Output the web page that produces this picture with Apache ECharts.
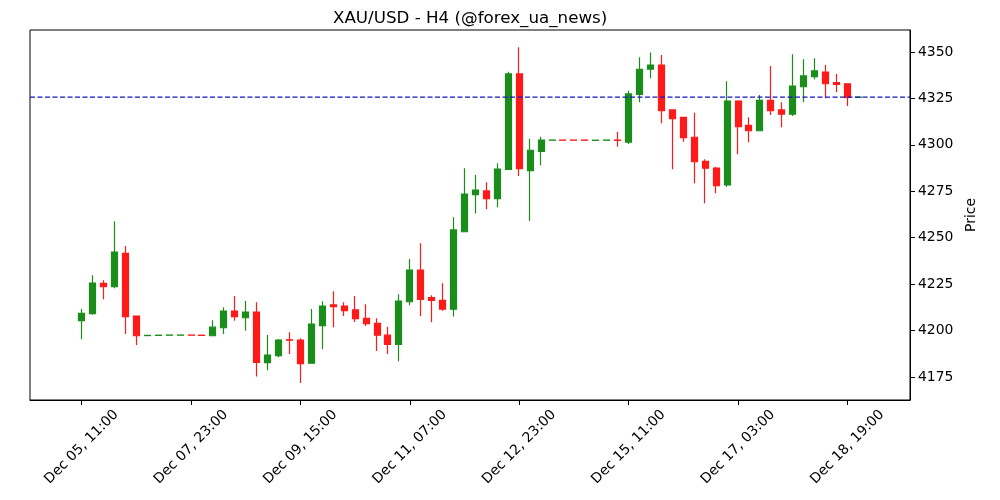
<!DOCTYPE html>
<html>
<head>
<meta charset="utf-8">
<script src="https://cdn.jsdelivr.net/npm/echarts@6/dist/echarts.min.js"></script>
<style>html,body{margin:0;padding:0;background:#fff;}#chart{width:1000px;height:500px;}</style>
</head>
<body>
<div id="chart"></div>
<script>
const categories = [
  'Dec 05, 11:00','Dec 05, 15:00','Dec 05, 19:00','Dec 05, 23:00','Dec 06, 03:00','Dec 06, 07:00',
  'Dec 06, 11:00','Dec 06, 15:00','Dec 06, 19:00','Dec 07, 19:00','Dec 07, 23:00','Dec 08, 03:00',
  'Dec 08, 07:00','Dec 08, 11:00','Dec 08, 15:00','Dec 08, 19:00','Dec 08, 23:00','Dec 09, 03:00',
  'Dec 09, 07:00','Dec 09, 11:00','Dec 09, 15:00','Dec 09, 19:00','Dec 09, 23:00','Dec 10, 03:00',
  'Dec 10, 07:00','Dec 10, 11:00','Dec 10, 15:00','Dec 10, 19:00','Dec 10, 23:00','Dec 11, 03:00',
  'Dec 11, 07:00','Dec 11, 11:00','Dec 11, 15:00','Dec 11, 19:00','Dec 11, 23:00','Dec 12, 03:00',
  'Dec 12, 07:00','Dec 12, 11:00','Dec 12, 15:00','Dec 12, 19:00','Dec 12, 23:00','Dec 13, 03:00',
  'Dec 13, 07:00','Dec 13, 11:00','Dec 13, 15:00','Dec 13, 19:00','Dec 13, 23:00','Dec 14, 03:00',
  'Dec 14, 07:00','Dec 15, 07:00','Dec 15, 11:00','Dec 15, 15:00','Dec 15, 19:00','Dec 15, 23:00',
  'Dec 16, 03:00','Dec 16, 07:00','Dec 16, 11:00','Dec 16, 15:00','Dec 16, 19:00','Dec 16, 23:00',
  'Dec 17, 03:00','Dec 17, 07:00','Dec 17, 11:00','Dec 17, 15:00','Dec 17, 19:00','Dec 17, 23:00',
  'Dec 18, 03:00','Dec 18, 07:00','Dec 18, 11:00','Dec 18, 15:00','Dec 18, 19:00','Dec 18, 23:00'
];
const opens = [
  4205.3,4209.1,4225.4,4223.6,4241.6,4207.8,4197.3,4197.4,4197.5,4197.5,4197.6,4197.5,
  4197.2,4201.5,4210.5,4206.9,4210.0,4182.7,4186.5,4195.0,4194.9,4182.4,4202.6,4213.8,
  4213.2,4211.1,4206.6,4203.9,4197.5,4192.6,4215.5,4232.6,4217.7,4216.3,4211.5,4253.2,
  4273.2,4275.2,4271.0,4286.8,4338.2,4286.1,4296.5,4302.5,4302.6,4302.6,4302.6,4302.4,
  4302.5,4302.6,4301.5,4327.2,4340.7,4343.0,4318.8,4314.8,4304.1,4291.1,4287.5,4278.4,
  4323.6,4310.5,4307.6,4324.0,4318.8,4316.5,4331.3,4336.7,4339.2,4333.5,4332.9,4325.6
];
const closes = [
  4209.3,4225.6,4223.6,4242.3,4207.5,4197.2,4197.4,4197.5,4197.6,4197.6,4197.5,4197.4,
  4201.8,4210.5,4207.5,4210.0,4182.9,4186.8,4194.9,4194.8,4182.2,4203.5,4213.2,4212.9,
  4210.7,4206.4,4203.7,4197.5,4192.6,4215.9,4232.6,4216.8,4216.3,4211.5,4254.2,4273.5,
  4275.7,4271.0,4287.0,4338.2,4287.2,4297.1,4302.6,4302.6,4302.5,4302.5,4302.5,4302.5,
  4302.6,4302.4,4327.4,4340.7,4343.0,4318.4,4314.1,4303.9,4290.9,4287.4,4278.0,4323.6,
  4309.8,4307.6,4324.0,4318.4,4316.5,4331.7,4337.1,4339.8,4332.9,4332.6,4325.6,4325.7
];
const lows = [
  4195.3,4208.5,4216.8,4222.8,4198.2,4192.2,4197.3,4197.4,4197.5,4197.5,4197.5,4197.4,
  4197.2,4198.2,4205.3,4199.9,4175.2,4178.6,4185.6,4187.4,4171.8,4182.2,4189.9,4201.8,
  4207.8,4204.6,4202.5,4189.0,4187.4,4183.5,4213.6,4207.8,4204.5,4210.7,4207.5,4252.9,
  4263.1,4265.3,4266.4,4286.5,4283.2,4259.0,4289.0,4302.5,4302.5,4302.5,4302.5,4302.4,
  4302.5,4299.0,4300.5,4322.9,4335.8,4311.6,4286.8,4301.7,4279.3,4268.5,4273.9,4277.5,
  4294.9,4301.4,4307.4,4316.1,4309.5,4315.5,4322.9,4335.3,4325.1,4328.3,4320.9,4325.6
];
const highs = [
  4211.6,4229.8,4227.1,4258.8,4245.5,4208.0,4197.4,4197.5,4197.6,4197.6,4197.6,4197.5,
  4205.5,4212.5,4218.6,4215.9,4215.2,4197.6,4195.5,4199.1,4195.8,4211.6,4215.8,4221.1,
  4215.2,4218.6,4214.1,4206.6,4202.1,4219.5,4238.5,4247.0,4219.0,4225.5,4261.0,4287.4,
  4283.8,4279.8,4290.1,4339.4,4352.5,4303.3,4304.4,4302.6,4302.6,4302.6,4302.6,4302.5,
  4302.6,4307.1,4329.2,4347.2,4349.8,4348.4,4319.0,4315.0,4317.3,4292.2,4288.2,4334.2,
  4324.0,4314.8,4326.9,4342.5,4322.9,4348.8,4346.1,4346.6,4343.0,4338.2,4333.0,4325.7
];
const xTickIndex = [0, 10, 20, 30, 40, 50, 60, 70];
const yTicks = [4175, 4200, 4225, 4250, 4275, 4300, 4325, 4350];
const lastClose = 4325.7;
const titleText = 'XAU/USD - H4 (@forex_ua_news)';
const yName = 'Price';

const xMin = -4.72, xMax = 75.72;
const candleData = categories.map((c, i) => [i, opens[i], closes[i], lows[i], highs[i]]);
const font = 'DejaVu Sans';
const refColor = '#1414c4';

const chart = echarts.init(document.getElementById('chart'), null, {renderer: 'canvas'});
chart.setOption({
  animation: false,
  backgroundColor: '#ffffff',
  title: {
    text: titleText,
    left: 328,
    top: 5,
    textStyle: {fontFamily: font, fontSize: 16.7, fontWeight: 'normal', color: '#000'}
  },
  grid: {
    left: 30, right: 90, top: 30, bottom: 100,
    show: true, borderColor: '#000', borderWidth: 1, backgroundColor: 'transparent'
  },
  xAxis: {
    type: 'value',
    min: xMin,
    max: xMax,
    axisLine: {show: true, onZero: false, lineStyle: {color: '#000', width: 1}},
    axisTick: {show: true, length: 5, customValues: xTickIndex, lineStyle: {color: '#000'}},
    axisLabel: {
      customValues: xTickIndex,
      rotate: 45,
      align: 'center',
      verticalAlign: 'middle',
      margin: 47,
      fontFamily: font,
      fontSize: 13.9,
      color: '#000',
      formatter: v => categories[v] || ''
    },
    splitLine: {show: false}
  },
  yAxis: {
    type: 'value',
    position: 'right',
    min: 4162.6,
    max: 4361.85,
    name: yName,
    nameLocation: 'middle',
    nameRotate: 90,
    nameGap: 45,
    nameTextStyle: {fontFamily: font, fontSize: 13.9, color: '#000'},
    axisLine: {show: true, onZero: false, lineStyle: {color: '#000', width: 1}},
    axisTick: {show: true, length: 5, customValues: yTicks, lineStyle: {color: '#000'}},
    axisLabel: {
      customValues: yTicks,
      margin: 8,
      fontFamily: font,
      fontSize: 13.9,
      color: '#000',
      formatter: v => String(v)
    },
    splitLine: {show: false}
  },
  series: [
    {
      type: 'candlestick',
      data: candleData,
      encode: {x: 0, y: [1, 2, 3, 4]},
      barWidth: 6.5,
      z: 2,
      itemStyle: {
        color: '#1a8d1a',
        color0: '#ff1a1a',
        borderColor: '#1a8d1a',
        borderColor0: '#ff1a1a',
        borderWidth: 1.2
      }
    },
    {
      type: 'line',
      data: [[xMin, lastClose], [xMax, lastClose]],
      showSymbol: false,
      symbol: 'none',
      silent: true,
      z: 3,
      lineStyle: {color: refColor, type: [5, 2.5], width: 1.2},
      itemStyle: {color: refColor}
    }
  ]
});
</script>
</body>
</html>
